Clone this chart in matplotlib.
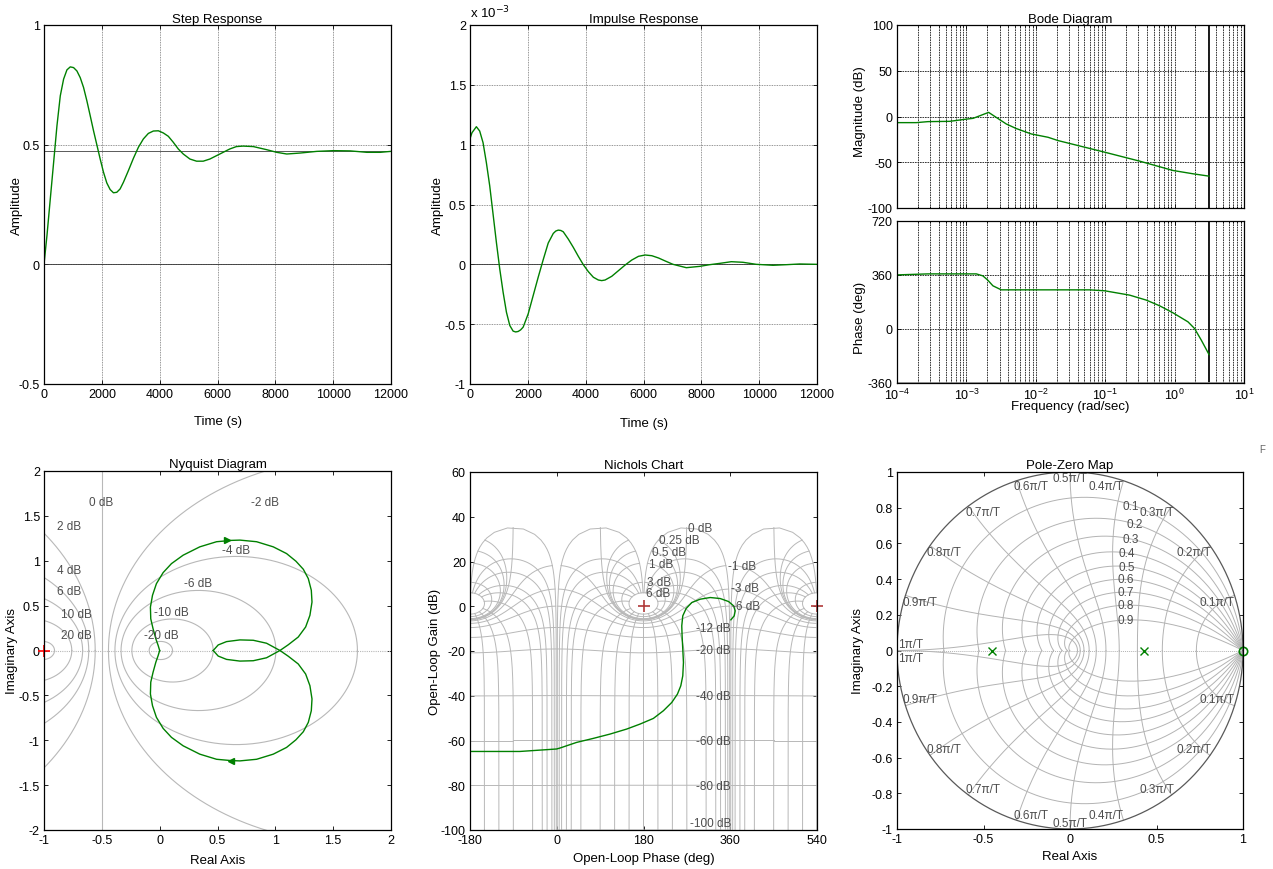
import numpy as np
import matplotlib
matplotlib.use('Agg')
import matplotlib.pyplot as plt

plt.rcParams['font.family'] = ['Liberation Sans', 'DejaVu Sans']
plt.rcParams['font.size'] = 9.5
plt.rcParams['axes.unicode_minus'] = False

W, H = 1273, 870
GREEN = '#008000'

# ---- step response
step_t = [0, 103, 218, 333, 448, 563, 678, 793, 908, 1023, 1138, 1253, 1368, 1483,
          1598, 1713, 1828, 1943, 2057, 2172, 2287, 2402, 2517, 2632, 2747, 2920,
          3092, 3264, 3437, 3609, 3782, 3954, 4126, 4299, 4471, 4644, 4816, 5046,
          5276, 5506, 5736, 5966, 6195, 6425, 6655, 6885, 7240, 7702, 8048, 8395,
          8857, 9434, 10012, 10589, 11166, 11628, 12000]
step_y = [0, 0.121, 0.274, 0.426, 0.579, 0.704, 0.774, 0.8125, 0.825, 0.822, 0.808,
          0.78, 0.739, 0.683, 0.621, 0.558, 0.499, 0.44, 0.385, 0.34, 0.3125, 0.299,
          0.301, 0.315, 0.343, 0.392, 0.443, 0.489, 0.524, 0.547, 0.557, 0.558, 0.549,
          0.535, 0.51, 0.482, 0.461, 0.44, 0.431, 0.431, 0.44, 0.454, 0.468, 0.482,
          0.492, 0.494, 0.492, 0.479, 0.468, 0.461, 0.465, 0.472, 0.475, 0.474, 0.468,
          0.468, 0.472]
step_final = 0.473

# ---- impulse response, units of 1e-3
imp_t = [0, 0, 69, 220, 335, 451, 566, 682, 798, 913, 1029, 1145, 1260, 1376, 1491,
         1580, 1665, 1750, 1838, 2012, 2185, 2358, 2532, 2705, 2879, 2965, 3052, 3140,
         3225, 3399, 3572, 3746, 3919, 4092, 4266, 4439, 4555, 4671, 4902, 5133, 5364,
         5595, 5827, 6058, 6289, 6520, 6751, 7020, 7481, 7942, 8288, 8634, 9037, 9441,
         9902, 10478, 10939, 11400, 12000]
imp_y = [-0.23, 1.05, 1.10, 1.15, 1.114, 1.017, 0.85, 0.656, 0.419, 0.183, -0.039,
         -0.233, -0.4, -0.511, -0.558, -0.565, -0.561, -0.548, -0.525, -0.414, -0.261,
         -0.108, 0.039, 0.178, 0.258, 0.278, 0.286, 0.283, 0.272, 0.211, 0.142, 0.067,
         -0.003, -0.061, -0.108, -0.131, -0.136, -0.131, -0.1, -0.053, -0.006, 0.036,
         0.067, 0.078, 0.072, 0.053, 0.028, 0, -0.028, -0.017, -0.003, 0.008, 0.022,
         0.017, 0, -0.008, -0.003, 0.003, 0]

# ---- bode
mag_w = [1e-4, 1.9e-4, 2.8e-4, 5.74e-4, 9.44e-4, 1.25e-3, 2.09e-3, 3.76e-3, 5.24e-3,
         8.64e-3, 1.5e-2, 2.09e-2, 9.82e-2, 0.314, 0.948, 1.84, 3.14]
mag_db = [-6.7, -6.7, -5.6, -5.3, -3.1, -2.0, 4.5, -8.2, -13.2, -19.1, -22.7, -26.3,
          -39.0, -48.8, -59.0, -62.6, -65.2]
ph_w = [1e-4, 2.8e-4, 1.39e-3, 1.73e-3, 2.04e-3, 2.41e-3, 3.18e-3, 5.97e-2, 9.82e-2,
        0.225, 0.392, 0.61, 0.948, 1.56, 1.94, 2.43, 3.14]
ph_deg = [360.7, 367.4, 367.4, 354, 325, 288, 261, 261, 254.8, 225.8, 192.4, 154.5,
          107.8, 47.6, 3.0, -75, -171]

# ---- nyquist, positive-frequency branch
nyq_re = [0.463, 0.506, 0.578, 0.694, 0.809, 0.924, 1.040, 1.112, 1.198, 1.262, 1.299,
          1.317, 1.311, 1.285, 1.242, 1.178, 1.097, 0.982, 0.838, 0.694, 0.621, 0.492,
          0.347, 0.203, 0.102, 0.030, -0.028, -0.062, -0.080, -0.077, -0.057, -0.033,
          -0.013, 0.0]
nyq_im = [0.0, 0.062, 0.099, 0.118, 0.114, 0.081, 0.0, -0.064, -0.150, -0.262, -0.392,
          -0.540, -0.671, -0.801, -0.905, -0.995, -1.080, -1.155, -1.212, -1.230, -1.227,
          -1.212, -1.155, -1.062, -0.968, -0.868, -0.745, -0.615, -0.484, -0.353, -0.242,
          -0.130, -0.056, 0.0]

# ---- nichols
nic_ph = [361.3, 368.2, 370.3, 366.9, 356.5, 339.1, 318.4, 297.6, 280.2, 268.5, 261.5,
          259.4, 260.1, 261.5, 262.9, 261.5, 257.4, 250.4, 238.7, 221.3, 200.5, 172.8,
          145.1, 110.5, 75.8, 41.2, 6.5, -0.5, -76.7, -180]
nic_db = [-6.07, -4.29, -2.06, 0.18, 2.11, 3.45, 3.90, 3.15, 1.67, -1.01, -4.29, -8.75,
          -13.22, -19.17, -25.12, -31.08, -35.54, -39.27, -42.99, -46.7, -50.13, -52.66,
          -54.89, -57.13, -59.06, -60.85, -63.38, -63.8, -64.9, -64.9]

# ---- pole-zero
pole_re = [-0.45, 0.427]
pole_im = [0.0, 0.0]
zero_re = [1.0]
zero_im = [0.0]


def box(l, t, r, b):
    return [l / W, 1 - b / H, (r - l) / W, (b - t) / H]


def style(ax):
    ax.tick_params(direction='in', top=True, right=True, length=3, width=0.6,
                   labelsize=9, pad=3)
    ax.tick_params(which='minor', direction='in', top=True, right=True, length=1.5)
    for s in ax.spines.values():
        s.set_linewidth(0.9)


def ticks(ax, xt=None, yt=None):
    if xt is not None:
        ax.set_xticks(xt)
        ax.set_xticklabels(['%g' % v for v in xt])
    if yt is not None:
        ax.set_yticks(yt)
        ax.set_yticklabels(['%g' % v for v in yt])


def labels(ax, xl, yl, xpos, ypos, yc=0.5):
    # positions, in axes fractions
    ax.set_xlabel(xl)
    ax.set_ylabel(yl)
    ax.xaxis.set_label_coords(0.5, xpos)
    ax.yaxis.set_label_coords(ypos, yc)


DOT = (0, (1, 1))
fig = plt.figure(figsize=(W / 100, H / 100), dpi=100)

# ================= step
ax = fig.add_axes(box(44, 26, 391, 385))
style(ax)
ax.grid(True, color='0.45', ls=DOT, lw=0.6)
ax.axhline(0, color='0.2', lw=0.6)
ax.axhline(step_final, color='0.35', lw=0.7)
ax.plot(step_t, step_y, color=GREEN, lw=1)
ax.set_xlim(0, 12000)
ax.set_ylim(-0.5, 1)
ticks(ax, [0, 2000, 4000, 6000, 8000, 10000, 12000], [-0.5, 0, 0.5, 1])
ax.set_title('Step Response', fontsize=9.5, pad=2)
labels(ax, 'Time (s)', 'Amplitude', -0.086, -0.06)

# ================= impulse
ax = fig.add_axes(box(470, 26, 817, 385))
style(ax)
ax.grid(True, color='0.45', ls=DOT, lw=0.6)
ax.axhline(0, color='0.2', lw=0.6)
ax.plot(imp_t, imp_y, color=GREEN, lw=1)
ax.set_xlim(0, 12000)
ax.set_ylim(-1, 2)
ticks(ax, [0, 2000, 4000, 6000, 8000, 10000, 12000], [-1, -0.5, 0, 0.5, 1, 1.5, 2])
ax.set_title('Impulse Response', fontsize=9.5, pad=2)
labels(ax, 'Time (s)', 'Amplitude', -0.092, -0.075)
ax.text(0.0, 1.012, r'x 10$^{-3}$', transform=ax.transAxes, fontsize=9.5,
        ha='left', va='bottom')

# ================= bode
axm = fig.add_axes(box(897, 26, 1244, 209))
axp = fig.add_axes(box(897, 222, 1244, 384), sharex=axm)
for a in (axm, axp):
    style(a)
    a.set_xscale('log')
    a.grid(True, which='both', axis='x', color='0.1', ls=(0, (2, 1)), lw=0.6)
    a.grid(True, which='major', axis='y', color='0.1', ls=(0, (2, 1)), lw=0.6)
    a.axvline(np.pi, color='0.1', lw=1.4)
axm.plot(mag_w, mag_db, color=GREEN, lw=1)
axp.plot(ph_w, ph_deg, color=GREEN, lw=1)
axp.axhline(-360, color='0.6', lw=2)
axm.set_xlim(1e-4, 10)
axm.set_ylim(-100, 100)
axp.set_ylim(-360, 720)
ticks(axm, None, [-100, -50, 0, 50, 100])
ticks(axp, None, [-360, 0, 360, 720])
axm.tick_params(labelbottom=False)
axm.set_title('Bode Diagram', fontsize=9.5, pad=2)
axm.set_ylabel('Magnitude (dB)')
axm.yaxis.set_label_coords(-0.09, 0.53)
labels(axp, 'Frequency (rad/sec)', 'Phase (deg)', -0.105, -0.09, 0.41)

# ================= nyquist
ax = fig.add_axes(box(44, 472, 391, 831))
style(ax)
GR = '0.72'
ax.axhline(0, color=GR, lw=0.8, ls=DOT)
th = np.linspace(0, 2 * np.pi, 600)
for mdb in [20, 10, 6, 4, 2, -2, -4, -6, -10, -20]:
    m = 10 ** (mdb / 20)
    c = -m * m / (m * m - 1)
    r = abs(m / (m * m - 1))
    ax.plot(c + r * np.cos(th), r * np.sin(th), color=GR, lw=0.8)
ax.axvline(-0.5, color=GR, lw=0.8)
nyq_labels = [('0 dB', -0.504, 1.654), ('2 dB', -0.784, 1.386), ('4 dB', -0.784, 0.895),
              ('6 dB', -0.784, 0.661), ('10 dB', -0.72, 0.408), ('20 dB', -0.72, 0.168),
              ('-2 dB', 0.909, 1.654), ('-4 dB', 0.658, 1.123), ('-6 dB', 0.333, 0.751),
              ('-10 dB', 0.102, 0.43), ('-20 dB', 0.01, 0.168)]
for s, x, y in nyq_labels:
    ax.text(x, y, s, fontsize=8.5, color='0.3', ha='center', va='center')
re = np.array(nyq_re)
im = np.array(nyq_im)
ax.plot(re, im, color=GREEN, lw=1)
ax.plot(re, -im, color=GREEN, lw=1)
ax.plot([0.621], [-1.227], marker='<', ms=4, color=GREEN)
ax.plot([0.584], [1.227], marker='>', ms=4, color=GREEN)
ax.plot([-1], [0], marker='+', ms=8, mew=1.2, color='red', clip_on=False)
ax.set_xlim(-1, 2)
ax.set_ylim(-2, 2)
ticks(ax, [-1, -0.5, 0, 0.5, 1, 1.5, 2], [-2, -1.5, -1, -0.5, 0, 0.5, 1, 1.5, 2])
ax.set_title('Nyquist Diagram', fontsize=9.5, pad=3)
labels(ax, 'Real Axis', 'Imaginary Axis', -0.067, -0.075)

# ================= nichols
ax = fig.add_axes(box(470, 473, 817, 831))
style(ax)
NG = '0.72'
phi = np.radians(np.linspace(-359, -1, 1500))
for gdb in [6, 3, 1, 0.5, 0.25, 0, -1, -3, -6, -12, -20, -40, -60, -80, -100, -120]:
    T = 10 ** (gdb / 20) * np.exp(1j * phi)
    G = T / (1 - T)
    p = np.degrees(np.unwrap(np.angle(G)))
    d = 20 * np.log10(np.abs(G))
    for k in range(-3, 4):
        ax.plot(p + 360 * k, d, color=NG, lw=0.7)
mm = np.logspace(-6.5, np.log10(2), 1500)
for pd in [1, 5, 10, 20, 30, 50, 90, 120, 150, 180]:
    for sg in (1, -1):
        T = mm * np.exp(1j * np.radians(sg * pd))
        G = T / (1 - T)
        p = np.degrees(np.unwrap(np.angle(G)))
        d = 20 * np.log10(np.abs(G))
        for k in range(-3, 4):
            ax.plot(p + 360 * k, d, color=NG, lw=0.7)
nic_labels = [('0 dB', 297.5, 35.1), ('0.25 dB', 254.5, 29.5), ('0.5 dB', 233.7, 24.4),
              ('1 dB', 216.4, 19.0), ('3 dB', 211.6, 11.0), ('6 dB', 209.5, 6.0),
              ('-1 dB', 384.8, 18.2), ('-3 dB', 389.6, 8.0), ('-6 dB', 392.4, 0.0),
              ('-12 dB', 325, -9.5), ('-20 dB', 325, -19.5), ('-40 dB', 325, -39.9),
              ('-60 dB', 325, -60.4), ('-80 dB', 325, -80.2), ('-100 dB', 319.6, -96.9)]
for s, x, y in nic_labels:
    ax.text(x, y, s, fontsize=8.5, color='0.3', ha='center', va='center')
ax.plot(nic_ph, nic_db, color=GREEN, lw=1)
ax.plot([180, 540], [0, 0], ls='none', marker='+', ms=8, mew=1.2, color='#b03a3a',
        clip_on=False)
ax.set_xlim(-180, 540)
ax.set_ylim(-100, 60)
ticks(ax, [-180, 0, 180, 360, 540], [-100, -80, -60, -40, -20, 0, 20, 40, 60])
ax.set_title('Nichols Chart', fontsize=9.5, pad=3)
labels(ax, 'Open-Loop Phase (deg)', 'Open-Loop Gain (dB)', -0.061, -0.0836)

# ================= pole-zero
ax = fig.add_axes(box(897, 473, 1243, 830))
style(ax)
ZG = '0.7'
ax.axhline(0, color=ZG, lw=0.7, ls=DOT)
tt = np.linspace(0, np.pi, 400)
for z in np.arange(1, 10) / 10:
    a = -z / np.sqrt(1 - z * z) * tt
    zz = np.exp(a + 1j * tt)
    ax.plot(zz.real, zz.imag, color=ZG, lw=0.7)
    ax.plot(zz.real, -zz.imag, color=ZG, lw=0.7)
zs = np.linspace(0, 1, 300)
for k in range(1, 11):
    wn = k * np.pi / 10
    zz = np.exp(-zs * wn + 1j * wn * np.sqrt(1 - zs * zs))
    ax.plot(zz.real, zz.imag, color=ZG, lw=0.7)
    ax.plot(zz.real, -zz.imag, color=ZG, lw=0.7)
cc = np.linspace(0, 2 * np.pi, 500)
ax.plot(np.cos(cc), np.sin(cc), color='0.35', lw=0.9)
wn_labels = [('0.5\u03c0/T', 0.0, 0.966), ('0.4\u03c0/T', 0.21, 0.92),
             ('0.6\u03c0/T', -0.227, 0.92), ('0.3\u03c0/T', 0.5, 0.776),
             ('0.7\u03c0/T', -0.5, 0.776), ('0.2\u03c0/T', 0.715, 0.551),
             ('0.8\u03c0/T', -0.727, 0.551), ('0.1\u03c0/T', 0.852, 0.271),
             ('0.9\u03c0/T', -0.869, 0.271), ('1\u03c0/T', -0.919, 0.037)]
for s, x, y in wn_labels:
    ax.text(x, y, s, fontsize=8.5, color='0.3', ha='center', va='center')
    ax.text(x, -y if y > 0.05 else -0.043, s, fontsize=8.5, color='0.3',
            ha='center', va='center')
zeta_labels = [('0.1', 0.35, 0.81), ('0.2', 0.375, 0.71), ('0.3', 0.35, 0.626),
               ('0.4', 0.33, 0.546), ('0.5', 0.327, 0.469), ('0.6', 0.32, 0.40),
               ('0.7', 0.32, 0.327), ('0.8', 0.32, 0.254), ('0.9', 0.32, 0.17)]
for s, x, y in zeta_labels:
    ax.text(x, y, s, fontsize=8.5, color='0.3', ha='center', va='center')
ax.plot(pole_re, pole_im, ls='none', marker='x', ms=6, mew=1, color=GREEN)
ax.plot(zero_re, zero_im, ls='none', marker='o', ms=6, mew=1.2, mfc='none',
        color=GREEN, clip_on=False)
ax.set_xlim(-1, 1)
ax.set_ylim(-1, 1)
ticks(ax, [-1, -0.5, 0, 0.5, 1], [-1, -0.8, -0.6, -0.4, -0.2, 0, 0.2, 0.4, 0.6, 0.8, 1])
ax.set_title('Pole-Zero Map', fontsize=9.5, pad=3)
labels(ax, 'Real Axis', 'Imaginary Axis', -0.059, -0.095)

fig.text(1262 / W, 1 - 450 / H, 'F', fontsize=7, color='0.4', ha='center', va='center')

fig.savefig('out.png', dpi=100)
